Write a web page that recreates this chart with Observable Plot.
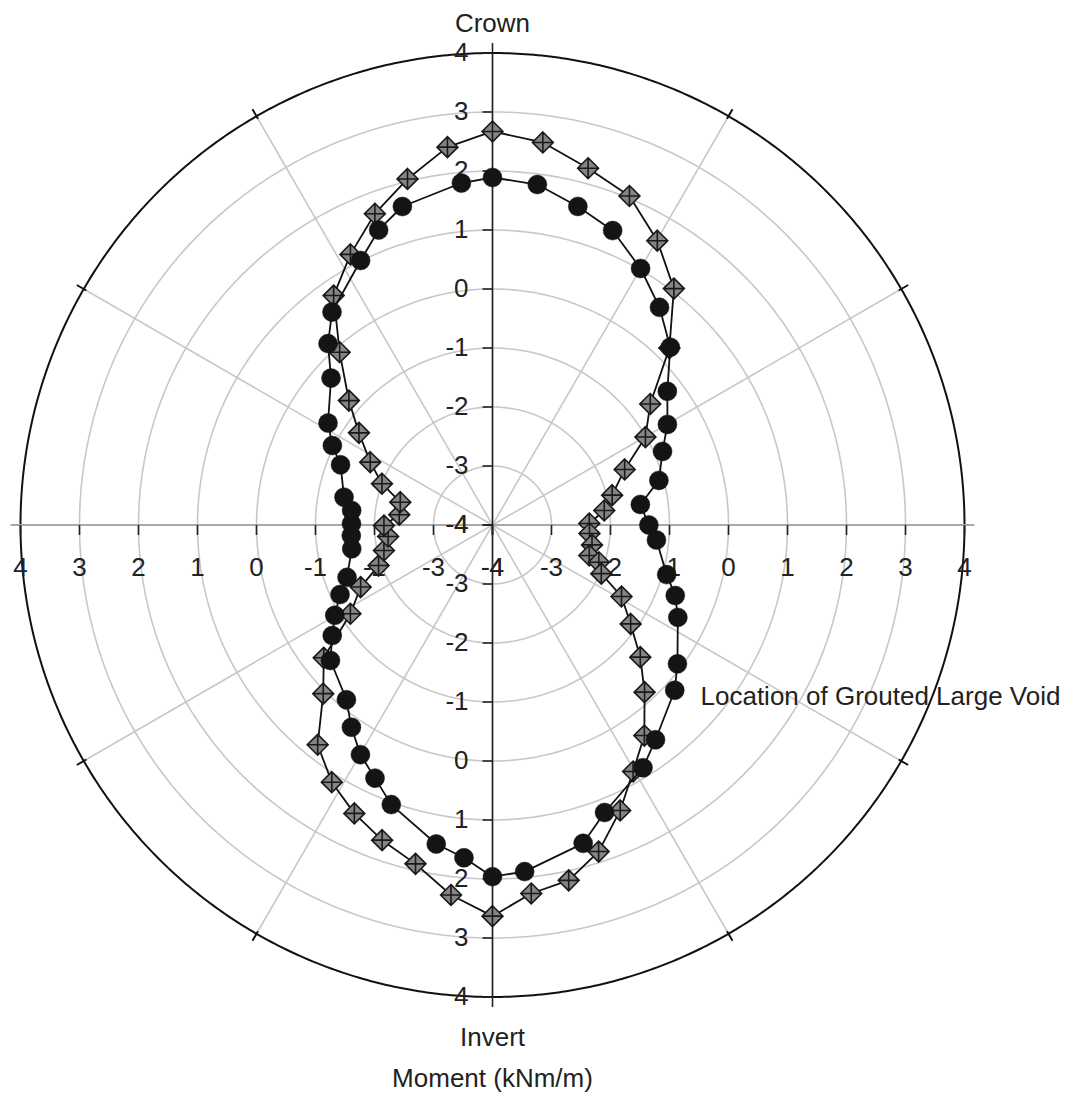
<!DOCTYPE html>
<html><head><meta charset="utf-8">
<script src="https://cdn.jsdelivr.net/npm/d3@7"></script>
<script src="https://cdn.jsdelivr.net/npm/@observablehq/plot@0.6"></script>
<style>body{margin:0;background:#fff} svg{display:block}</style>
</head><body><div id="chart"></div>
<script>
// Angles in degrees, clockwise from Crown (top); moments in kNm/m
const circleAngles = [0, 7.5, 15, 22.2, 30, 37.5, 45, 52.6, 60.1, 66.6, 75, 82.1, 90, 95.2, 105.9, 111.1, 116.5, 126.9, 132.2, 142.8, 148.2, 158.7, 164.1, 174.7, 180, 184.9, 190, 199.9, 204.9, 209.9, 214.9, 219.9, 230.1, 235.4, 240.2, 245.5, 250.2, 260.4, 265.7, 270.5, 275.9, 280.6, 291.6, 296.4, 301.8, 312.3, 317.8, 323, 333.5, 338.9, 344.2, 354.8];
const circleMoments = [1.89, 1.82, 1.59, 1.39, 1.02, 0.65, 0.26, -0.27, -0.58, -0.86, -1.08, -1.47, -1.35, -1.21, -0.93, -0.68, -0.49, -0.08, 0.17, 0.57, 0.84, 1.23, 1.61, 1.90, 1.96, 1.66, 1.49, 1.04, 0.73, 0.49, 0.18, -0.14, -0.42, -0.70, -0.92, -1.16, -1.38, -1.58, -1.60, -1.61, -1.60, -1.44, -1.23, -0.97, -0.72, -0.30, 0.15, 0.52, 1.01, 1.36, 1.61, 1.82];
const diamondAngles = [0, 7.5, 15, 22.6, 30.1, 37.5, 45, 52.5, 60.1, 67.2, 76, 82.6, 89.1, 95, 101.3, 107.5, 109.3, 114.1, 119, 125.6, 131.8, 137.7, 144.2, 150.3, 155.9, 162, 167.9, 174, 180, 186.4, 192.8, 199.3, 205.6, 212, 218.5, 225.1, 231.8, 238, 244.8, 250.4, 256.8, 263.7, 269.7, 276.3, 283.9, 290.5, 297.2, 304.6, 310.9, 318.5, 325.3, 332.3, 339.3, 346.2, 353.2];
const diamondMoments = [2.67, 2.54, 2.26, 2.04, 1.57, 1.05, 0.24, -0.63, -1.01, -1.57, -1.91, -2.09, -2.36, -2.35, -2.28, -2.28, -2.09, -1.98, -1.50, -1.12, -0.64, -0.17, 0.40, 0.81, 1.30, 1.82, 2.16, 2.28, 2.63, 2.31, 1.89, 1.66, 1.42, 1.14, 0.76, 0.05, -0.36, -1.16, -1.53, -1.95, -2.11, -2.22, -2.16, -2.41, -2.39, -2.00, -1.67, -1.25, -0.78, -0.09, 0.73, 1.18, 1.64, 2.04, 2.45];

const radialTicks = [-4, -3, -2, -1, 0, 1, 2, 3, 4];
const ringValues = [-3, -2, -1, 0, 1, 2, 3];
const spokeAngles = [0, 30, 60, 90, 120, 150, 180, 210, 240, 270, 300, 330];
const outerTickAngles = [30, 60, 120, 150, 210, 240, 300, 330];
const crownLabel = "Crown";
const invertLabel = "Invert";
const axisTitle = "Moment (kNm/m)";
const voidLabel = "Location of Grouted Large Void";

const rMin = -4, rMax = 4;
const PX = 59;            // pixels per unit
const W = 1078, H = 1096;
const CX = 492, CY = 524.5;
const u = px => px / PX;  // pixel length -> data units
const R = rMax - rMin;

const polar = (a, m) => {
  const t = a * Math.PI / 180, r = m - rMin;
  return {x: r * Math.sin(t), y: r * Math.cos(t)};
};

const circles = circleAngles.map((a, i) => ({...polar(a, circleMoments[i]), a, m: circleMoments[i]}));
const diamonds = diamondAngles.map((a, i) => ({...polar(a, diamondMoments[i]), a, m: diamondMoments[i]}));

const rings = ringValues.flatMap(v => d3.range(0, 361, 1).map(a => ({...polar(a, v), v})));
const outer = d3.range(0, 361, 0.5).map(a => polar(a, rMax));
const spokes = spokeAngles.map(a => ({a, ...polar(a, rMax)}));
const outerTicks = outerTickAngles.map(a => {
  const t = a * Math.PI / 180, r1 = R - u(3), r2 = R + u(8);
  return {x1: r1 * Math.sin(t), y1: r1 * Math.cos(t), x2: r2 * Math.sin(t), y2: r2 * Math.cos(t)};
});

const tickPos = radialTicks.map(v => v - rMin); // distance from center
const vTicks = tickPos.flatMap(d => [{y: d}, {y: -d}]);
const hTicks = tickPos.flatMap(d => [{x: d}, {x: -d}]);
const vLabels = radialTicks.flatMap(v => [{y: v - rMin, t: String(v)}, {y: -(v - rMin), t: String(v)}]);
const hLabels = radialTicks.flatMap(v => [{x: v - rMin, t: String(v)}, {x: -(v - rMin), t: String(v)}]);

const diamondPlus = {
  draw(ctx, size) {
    const h = Math.sqrt(size / Math.PI) * 1.1;
    ctx.moveTo(0, -h); ctx.lineTo(h, 0); ctx.lineTo(0, h); ctx.lineTo(-h, 0); ctx.closePath();
    ctx.moveTo(0, -h); ctx.lineTo(0, h);
    ctx.moveTo(-h, 0); ctx.lineTo(h, 0);
  }
};

const font = "'Liberation Sans', Arial, Helvetica, sans-serif";
const ext = R + u(10);

const chart = Plot.plot({
  width: W, height: H, margin: 0,
  style: {fontFamily: font, background: "#fff"},
  x: {domain: [-CX / PX, (W - CX) / PX], axis: null},
  y: {domain: [(CY - H) / PX, CY / PX], axis: null},
  marks: [
    Plot.line(rings, {x: "x", y: "y", z: "v", stroke: "#c8c8c8", strokeWidth: 1.6}),
    Plot.link(spokes, {x1: 0, y1: 0, x2: "x", y2: "y", stroke: "#c8c8c8", strokeWidth: 1.6}),
    Plot.line(outer, {x: "x", y: "y", stroke: "#111", strokeWidth: 2}),
    Plot.link(outerTicks, {x1: "x1", y1: "y1", x2: "x2", y2: "y2", stroke: "#111", strokeWidth: 2}),
    // horizontal axis
    Plot.link([{a: 0}], {x1: -ext, x2: ext, y1: 0, y2: 0, stroke: "#a8a8a8", strokeWidth: 2}),
    Plot.link(hTicks, {x1: "x", x2: "x", y1: 0, y2: -u(10), stroke: "#222", strokeWidth: 1.6}),
    // vertical axis
    Plot.link([{a: 0}], {x1: 0, x2: 0, y1: -ext, y2: ext, stroke: "#222", strokeWidth: 1.6}),
    Plot.link(vTicks, {x1: -u(10), x2: 0, y1: "y", y2: "y", stroke: "#222", strokeWidth: 1.6}),
    Plot.text(vLabels, {x: 0, y: "y", text: "t", dx: -24, textAnchor: "end", fontSize: 26, fill: "#222"}),
    Plot.text(hLabels, {x: "x", y: 0, text: "t", dy: 43, fontSize: 26, fill: "#222"}),
    // series
    Plot.line(diamonds, {x: "x", y: "y", curve: "linear-closed", stroke: "#111", strokeWidth: 1.8}),
    Plot.dot(diamonds, {x: "x", y: "y", symbol: diamondPlus, r: 9.5, fill: "#858585", stroke: "#1a1a1a", strokeWidth: 1.6}),
    Plot.line(circles, {x: "x", y: "y", curve: "linear-closed", stroke: "#111", strokeWidth: 1.8}),
    Plot.dot(circles, {x: "x", y: "y", r: 9.5, fill: "#141414", stroke: "#141414", strokeWidth: 0.5}),
    // labels
    Plot.text([crownLabel], {x: 0, y: u(CY - 23), text: d => d, fontSize: 26, fill: "#222"}),
    Plot.text([invertLabel], {x: 0, y: -u(1036.7 - CY), text: d => d, fontSize: 26, fill: "#222"}),
    Plot.text([axisTitle], {x: 0, y: -u(1078 - CY), text: d => d, fontSize: 26, fill: "#222"}),
    Plot.text([voidLabel], {x: u(700 - CX), y: -u(696 - CY), text: d => d, textAnchor: "start", fontSize: 26, fill: "#222"})
  ]
});
document.getElementById("chart").append(chart);
</script>
</body></html>
